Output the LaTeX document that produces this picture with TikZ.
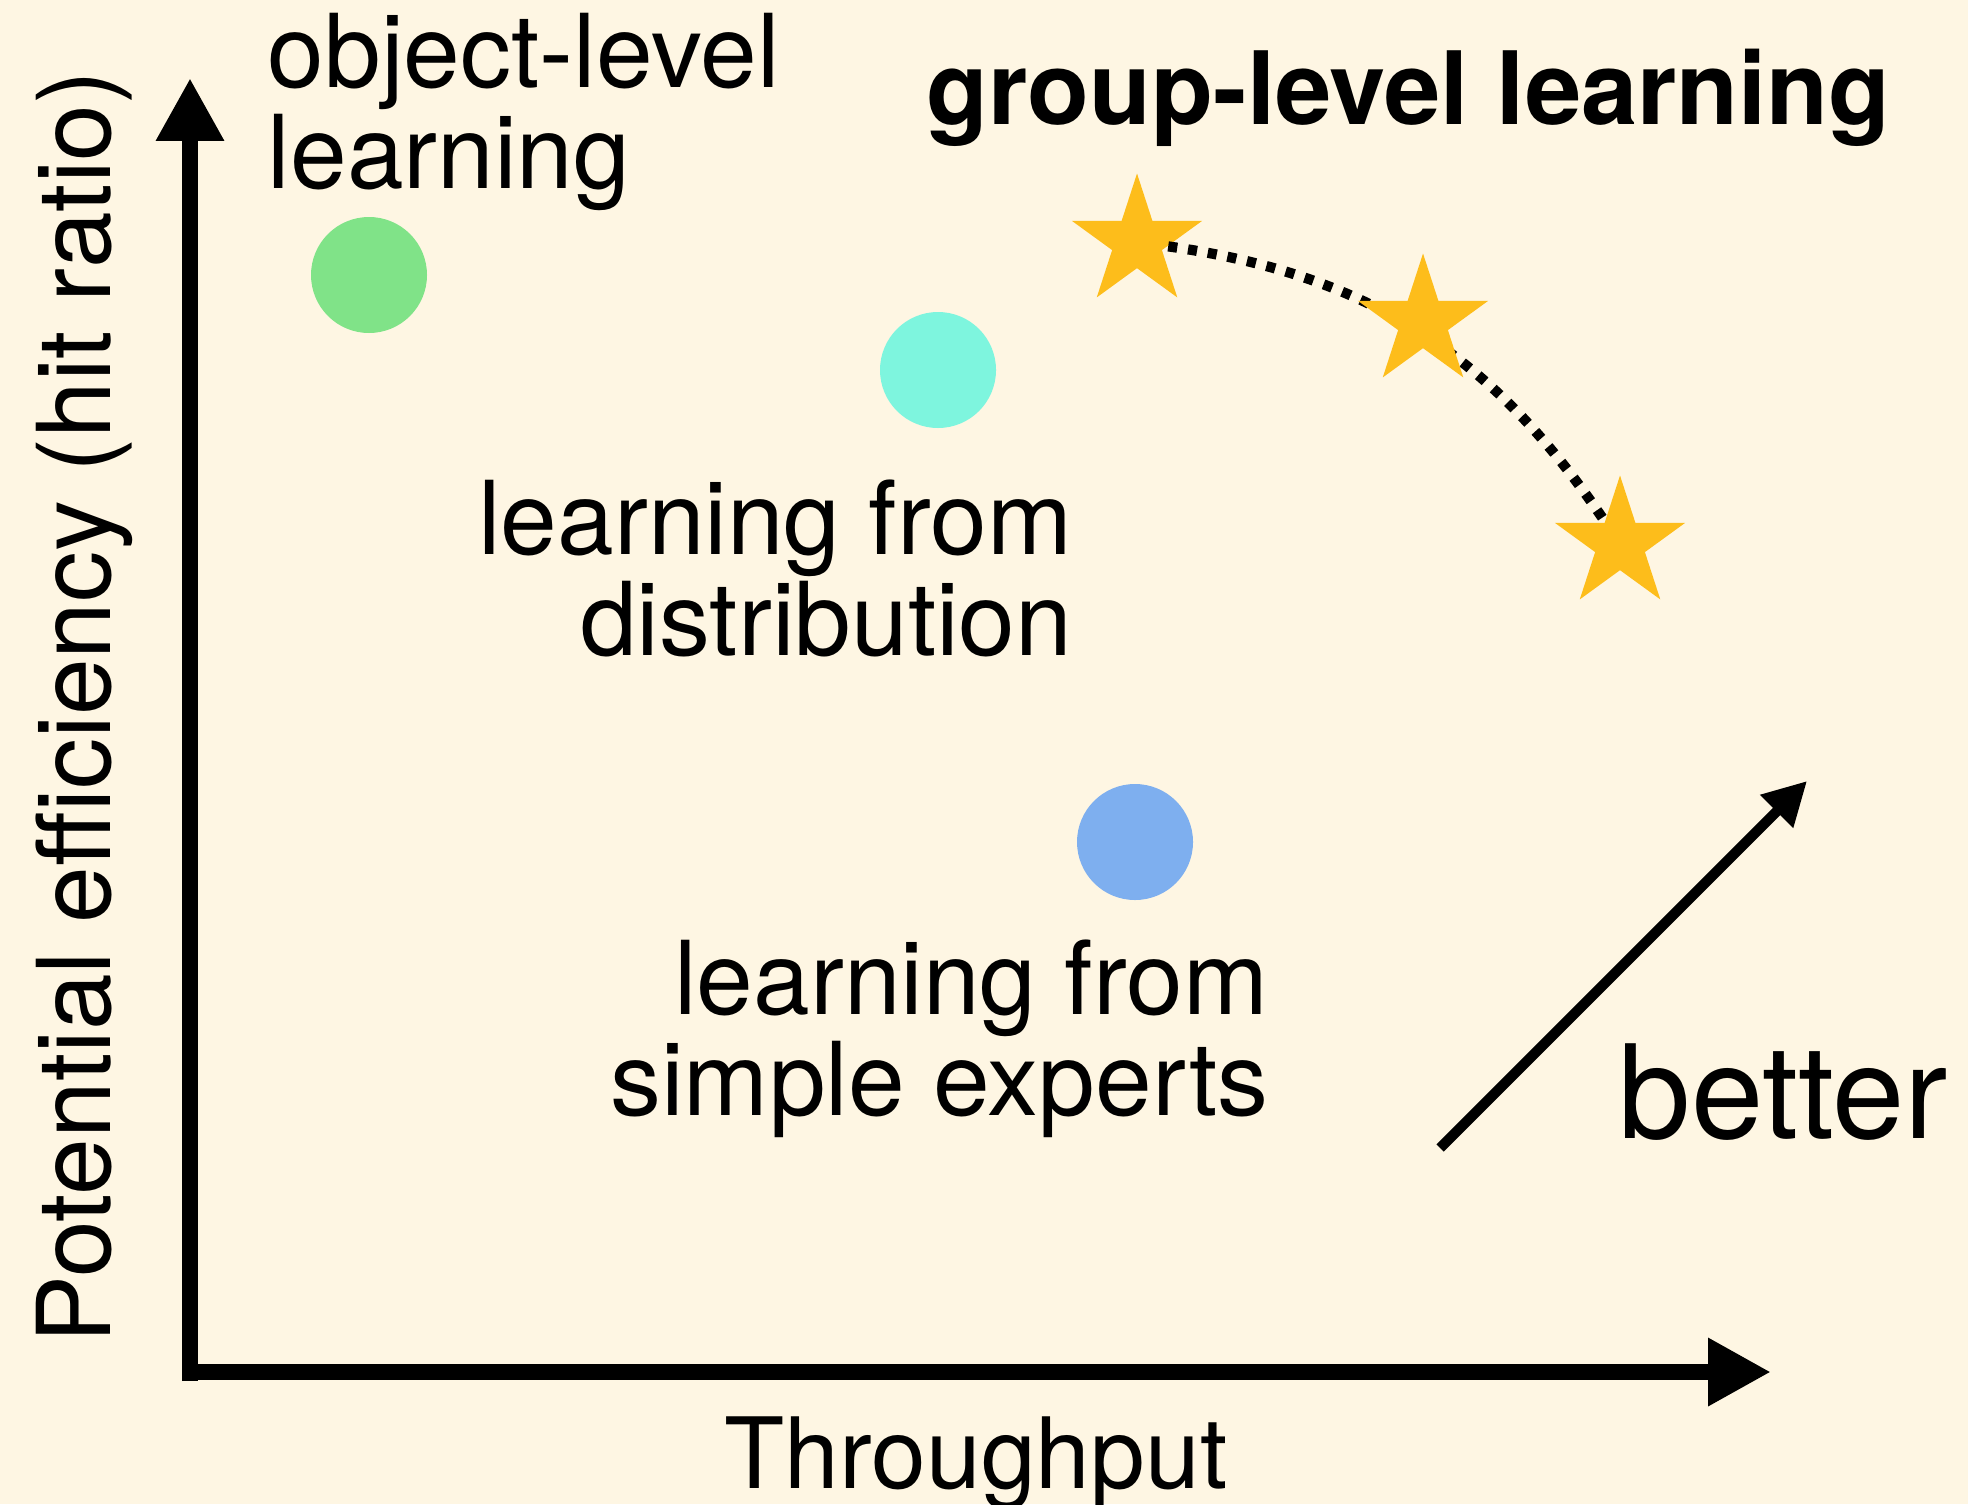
\documentclass[tikz,border=0pt]{standalone}
\usepackage{fontspec}
\setmainfont{TeX Gyre Heros}
\usetikzlibrary{arrows.meta,shapes.geometric}
\definecolor{paper}{RGB}{254,246,227}
\definecolor{objG}{RGB}{128,227,136}
\definecolor{distC}{RGB}{126,245,222}
\definecolor{expB}{RGB}{126,175,239}
\definecolor{grpY}{RGB}{253,189,27}
\tikzset{
  axis/.style={line width=4.7pt,-{Triangle[length=6.3mm,width=6.4mm]}},
  better/.style={line width=2.9pt,-{Triangle[length=4.3mm,width=4.4mm]}},
  pt/.style={circle,inner sep=0pt,minimum size=11.6mm},
  goal/.style={star,star points=5,star point ratio=2.618,inner sep=0pt,
    minimum size=13.7mm,fill=grpY},
  lbl/.style={inner sep=0pt,font=\fontsize{29}{26.7}\selectfont},
  trend/.style={line width=2.9pt,dash pattern=on 2.6pt off 3.1pt},
}
\begin{document}
\begin{tikzpicture}[x=0.1mm,y=0.1mm]
  \fill[paper] (0,0) rectangle (1968,1504);
  \useasboundingbox (0,0) rectangle (1968,1504);
  % axes
  \coordinate (ybot) at (190,123);
  \coordinate (ytop) at (190,1426);
  \coordinate (xbeg) at (182,132);
  \coordinate (xend) at (1771,132);
  \draw[axis] (ybot) -- (ytop);
  \draw[axis] (xbeg) -- (xend);
  \node[lbl,anchor=base,font=\fontsize{28}{30}\selectfont] (xlab) at (976,16) {Throughput};
  \node[lbl,anchor=base,rotate=90] (ylab) at (110,797) {Potential efficiency (hit ratio)};
  % methods
  \node[pt,fill=objG] (obj) at (369,1229) {};
  \node[pt,fill=distC] (dist) at (938,1134) {};
  \node[pt,fill=expB] (exp) at (1135,662) {};
  \node[lbl,align=left,anchor=base west] (objlab) at (267,1316) {object-level\\learning};
  \node[lbl,align=right,anchor=base east] (distlab) at (1073,849) {learning from\\distribution};
  \node[lbl,align=right,anchor=base east] (explab) at (1269,389) {learning from\\simple experts};
  % group-level
  \node[goal] (s1) at (1137,1262) {};
  \node[goal] (s3) at (1620,960) {};
  \draw[trend] (s1) to[out=-8,in=124] (s3);
  \node[goal] (s2) at (1423,1182) {};
  \node[lbl,anchor=base west,font=\fontsize{28.8}{30}\selectfont\bfseries] (grplab) at (926,1379) {group-level learning};
  % better
  \coordinate (bfrom) at (1440,356);
  \coordinate (bto) at (1807,723);
  \draw[better] (bfrom) -- (bto);
  \node[lbl,anchor=base west,font=\fontsize{37}{40}\selectfont] (betlab) at (1618,366) {better};
\end{tikzpicture}
\end{document}
